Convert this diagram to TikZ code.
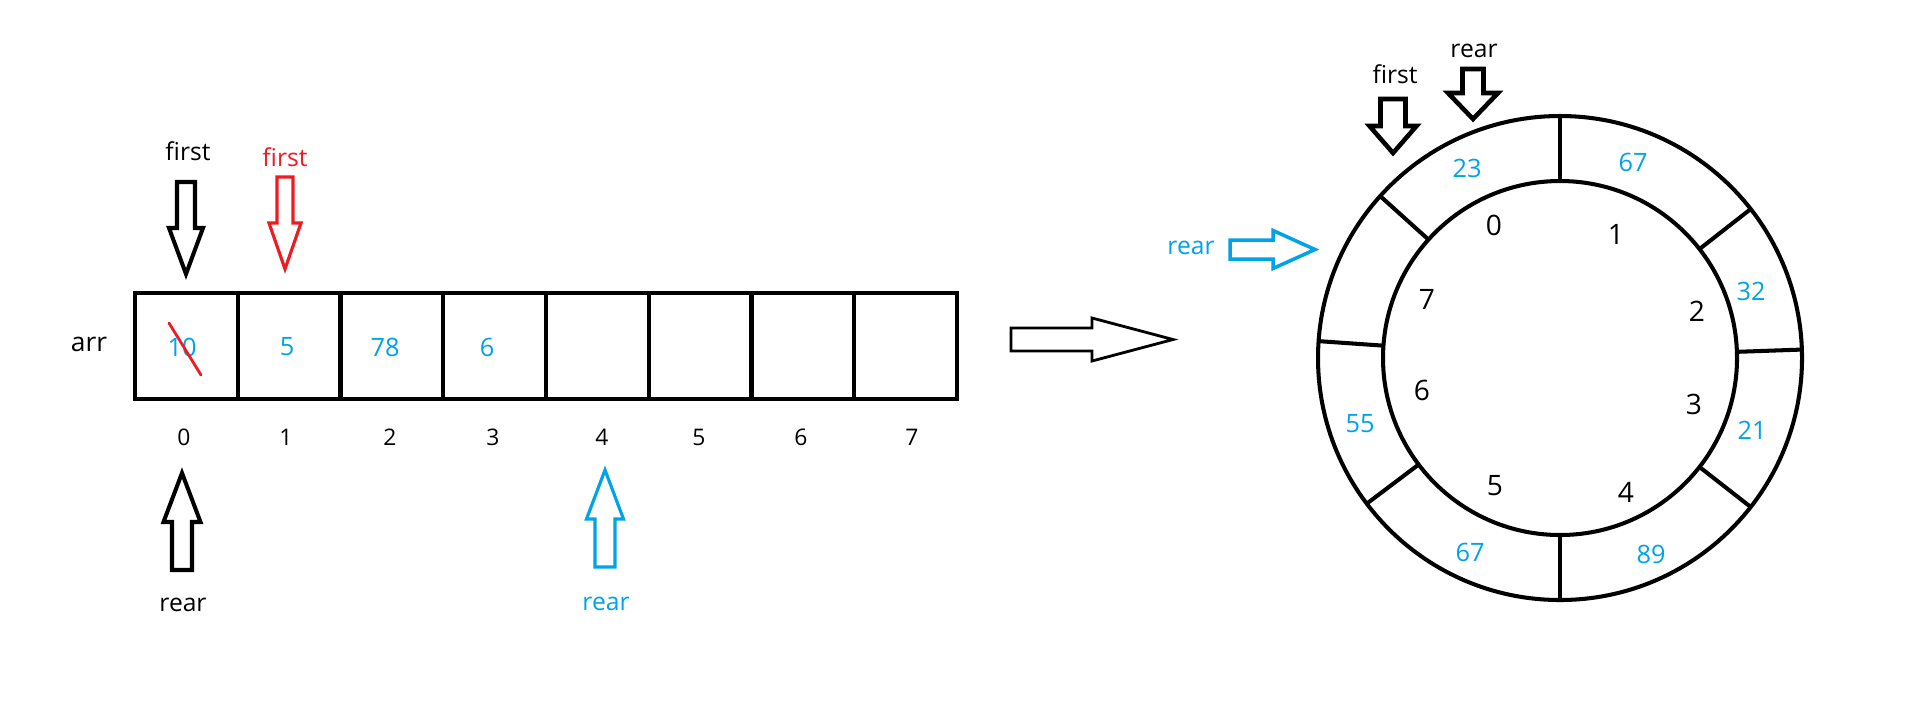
\documentclass[tikz,border=0pt]{standalone}
\usepackage{fontspec}
\setmainfont{Open Sans}
\definecolor{paintblue}{RGB}{0,162,232}
\definecolor{paintred}{RGB}{237,28,36}

\begin{document}
\begin{tikzpicture}[x=0.01cm,y=-0.01cm,line join=miter,
  lbl/.style={inner sep=0pt,font=\fontsize{7}{8}\selectfont},
  idx/.style={inner sep=0pt,font=\fontsize{6.5}{8}\selectfont},
  val/.style={inner sep=0pt,text=paintblue,font=\fontsize{7.2}{8}\selectfont},
  slot/.style={inner sep=0pt,font=\fontsize{8}{9}\selectfont}]
% ---------- hollow block arrow: tail at origin, pointing along +x ----------
% #1 length, #2 head length, #3 shaft half width, #4 head half width
\newcommand{\blockarrow}[4]{%
  \draw (0,-#3) -- ({#1-#2},-#3) -- ({#1-#2},-#4) -- (#1,0)
    -- ({#1-#2},#4) -- ({#1-#2},#3) -- (0,#3) -- cycle;
}
\useasboundingbox (0,0) rectangle (1931,702);
% ---------- linear array ----------
\draw[line width=1.15pt] (135,293) rectangle (957,399);
\foreach \i in {1,...,7}
  \draw[line width=1.15pt] ({135+102.75*\i},293) -- ({135+102.75*\i},399);
\node[lbl,font=\fontsize{7.5}{9}\selectfont] (arr) at (89,344) {arr};
\node[val] (v0) at (182,347) {10};
\node[val] (v1) at (287,347) {5};
\node[val] (v2) at (385,347) {78};
\node[val] (v3) at (487,347) {6};
\draw[paintred,line width=0.8pt,line cap=round] (169,323) -- (201,375);
\foreach \x/\n in {184/0,286/1,390/2,493/3,602/4,699/5,801/6,912/7}
  \node[idx] (i\n) at (\x,437) {\n};
% ---------- pointers of the array ----------
\node[lbl] (first0) at (188,151) {first};
\begin{scope}[shift={(186,182)},rotate=-90,line width=1.15pt]
  \blockarrow{92}{46}{9}{17}
\end{scope}
\node[lbl,text=paintred] (first1) at (285,157) {first};
\begin{scope}[shift={(285,177)},rotate=-90,line width=0.9pt,draw=paintred]
  \blockarrow{92}{46}{8}{16}
\end{scope}
\begin{scope}[shift={(182,570)},rotate=90,line width=1.15pt]
  \blockarrow{97}{49}{10}{18.5}
\end{scope}
\node[lbl] (rear0) at (183,605) {rear};
\begin{scope}[shift={(605,567)},rotate=90,line width=0.9pt,draw=paintblue]
  \blockarrow{97}{49}{10}{18.5}
\end{scope}
\node[lbl,text=paintblue] (rear4) at (606,604) {rear};
% ---------- arrow between the two pictures ----------
\begin{scope}[shift={(1011,339.5)},line width=0.8pt]
  \blockarrow{162}{81}{11.5}{21.5}
\end{scope}
% ---------- circular queue ----------
\begin{scope}[shift={(1560,358)},line width=1.15pt]
  \draw (0,0) circle (242);
  \draw (0,0) circle (177);
  \foreach \a in {-90,-38,-2,38,90,143,184,222}
    \draw (\a:177) -- (\a:242);
\end{scope}
\foreach \x/\y/\n in {1494/225/0,1616/234/1,1697/311/2,1694/404/3,1626/492/4,1495/486/5,1422/390/6,1427/299/7}
  \node[slot] (s\n) at (\x,\y) {\n};
\node[val] (c0) at (1467,168) {23};
\node[val] (c1) at (1633,162) {67};
\node[val] (c2) at (1751,291) {32};
\node[val] (c3) at (1752,430) {21};
\node[val] (c4) at (1651,554) {89};
\node[val] (c5) at (1470,552) {67};
\node[val] (c6) at (1360,424) {55};
% ---------- pointers of the circle ----------
\node[lbl] (firstc) at (1395,74) {first};
\begin{scope}[shift={(1393,99)},rotate=-90,line width=1.3pt]
  \blockarrow{54}{27}{12.5}{23.5}
\end{scope}
\node[lbl] (rearc) at (1474,51) {rear};
\begin{scope}[shift={(1473,69)},rotate=-90,line width=1.3pt]
  \blockarrow{50}{26}{10.5}{25}
\end{scope}
\node[lbl,text=paintblue] (rearb) at (1191,248) {rear};
\begin{scope}[shift={(1230,249.5)},line width=1pt,draw=paintblue]
  \blockarrow{85}{42}{9.5}{19}
\end{scope}
\end{tikzpicture}
\end{document}
